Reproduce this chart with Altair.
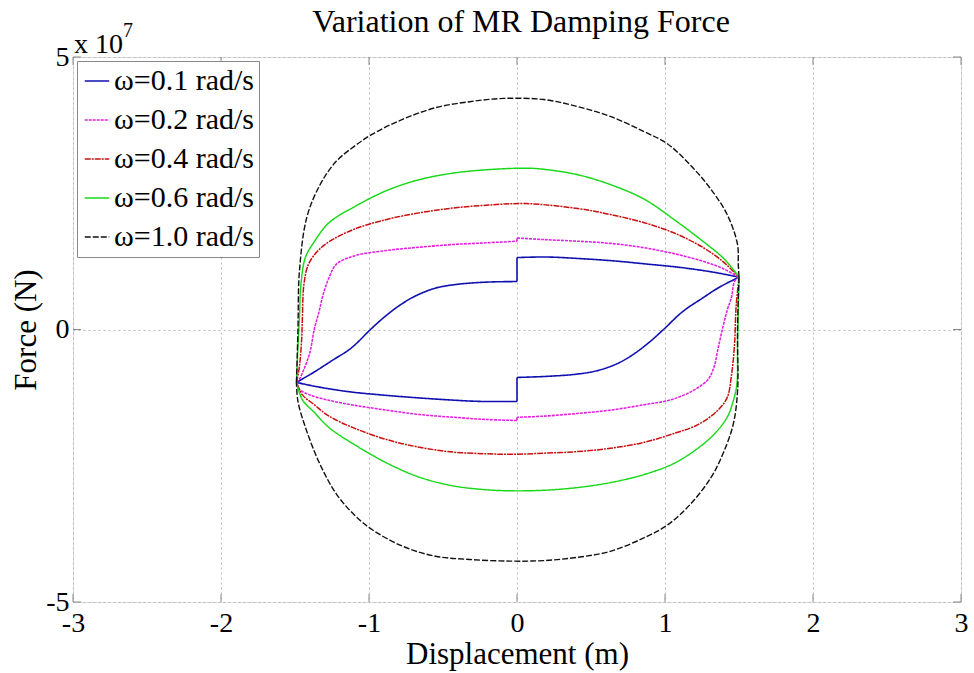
import altair as alt
import pandas as pd

# Series names (legend labels)
names = ["ω=0.1 rad/s", "ω=0.2 rad/s", "ω=0.4 rad/s", "ω=0.6 rad/s", "ω=1.0 rad/s"]
colors = ["#1010b0", "#e020e0", "#c81010", "#18d818", "#111111"]
dashes = [[1, 0], [3, 1], [6, 1, 2, 1], [1, 0], [6, 2]]
widths = [1.6, 1.4, 1.4, 1.5, 0.8]

# Displacement (m) and force (in units of 1e7 N), read branch by branch.
# ω=0.1 rad/s
w01_ul_x = [-1.49, -1.37, -1.25, -1.12, -0.99, -0.90, -0.80, -0.69, -0.55, -0.40, -0.20, 0.0]
w01_ul_y = [-0.97, -0.78, -0.57, -0.34, 0.0, 0.22, 0.43, 0.61, 0.76, 0.83, 0.87, 0.88]
w01_ur_x = [0.0, 0.20, 0.43, 0.65, 0.88, 1.10, 1.33, 1.50]
w01_ur_y = [1.32, 1.33, 1.30, 1.26, 1.20, 1.14, 1.05, 0.96]
w01_lr_x = [1.50, 1.37, 1.25, 1.12, 0.99, 0.90, 0.80, 0.69, 0.55, 0.40, 0.20, 0.0]
w01_lr_y = [0.96, 0.78, 0.57, 0.33, 0.0, -0.22, -0.43, -0.61, -0.75, -0.82, -0.86, -0.88]
w01_ll_x = [0.0, -0.24, -0.47, -0.69, -0.92, -1.14, -1.37, -1.49]
w01_ll_y = [-1.32, -1.32, -1.29, -1.25, -1.20, -1.14, -1.04, -0.97]

# ω=0.2 rad/s
w02_ul_x = [-1.49, -1.47, -1.44, -1.40, -1.37, -1.34, -1.31, -1.27, -1.22, -1.10, -0.88, -0.66, -0.43, -0.21, 0.0]
w02_ul_y = [-0.97, -0.91, -0.73, -0.43, 0.0, 0.30, 0.64, 0.95, 1.20, 1.35, 1.45, 1.51, 1.56, 1.59, 1.62]
w02_ur_x = [0.0, 0.18, 0.41, 0.63, 0.86, 1.08, 1.26, 1.39, 1.50]
w02_ur_y = [1.68, 1.65, 1.62, 1.58, 1.50, 1.38, 1.25, 1.12, 0.96]
w02_lr_x = [1.50, 1.47, 1.45, 1.42, 1.39, 1.36, 1.33, 1.29, 1.19, 1.04, 0.86, 0.63, 0.41, 0.18, 0.0]
w02_lr_y = [0.96, 0.88, 0.60, 0.35, 0.03, -0.33, -0.70, -0.92, -1.12, -1.29, -1.38, -1.48, -1.54, -1.59, -1.61]
w02_ll_x = [0.0, -0.21, -0.43, -0.66, -0.88, -1.10, -1.27, -1.40, -1.47, -1.49]
w02_ll_y = [-1.67, -1.65, -1.61, -1.56, -1.48, -1.39, -1.30, -1.20, -1.10, -0.97]

# ω=0.4 rad/s
w04_u_x = [-1.49, -1.47, -1.455, -1.45, -1.44, -1.41, -1.35, -1.27, -1.10, -0.88, -0.66, -0.43,
           -0.21, 0.06, 0.41, 0.63, 0.86, 1.08, 1.26, 1.39, 1.46, 1.50]
w04_u_y = [-0.97, -0.68, -0.18, 0.22, 0.82, 1.19, 1.43, 1.61, 1.84, 2.02, 2.14, 2.23,
           2.28, 2.31, 2.22, 2.11, 1.96, 1.75, 1.50, 1.25, 1.07, 0.96]
w04_l_x = [1.50, 1.48, 1.47, 1.45, 1.42, 1.35, 1.22, 1.08, 0.86, 0.63, 0.41, 0.18, -0.04,
           -0.21, -0.43, -0.66, -0.88, -1.10, -1.27, -1.37, -1.45, -1.49]
w04_l_y = [0.96, 0.40, -0.27, -0.82, -1.25, -1.50, -1.75, -1.89, -2.07, -2.18, -2.24, -2.27, -2.29,
           -2.28, -2.25, -2.16, -2.02, -1.81, -1.59, -1.38, -1.20, -0.97]

# ω=0.6 rad/s
w06_u_x = [-1.49, -1.48, -1.47, -1.46, -1.43, -1.37, -1.27, -1.10, -0.88, -0.66, -0.43, -0.21,
           0.06, 0.18, 0.41, 0.63, 0.86, 1.08, 1.26, 1.39, 1.47, 1.50]
w06_u_y = [-0.97, -0.30, 0.22, 0.82, 1.32, 1.61, 1.96, 2.25, 2.55, 2.75, 2.87, 2.93,
           2.96, 2.94, 2.84, 2.66, 2.39, 1.98, 1.61, 1.32, 1.07, 0.96]
w06_l_x = [1.50, 1.49, 1.486, 1.46, 1.42, 1.31, 1.08, 0.86, 0.63, 0.41, 0.18, -0.04,
           -0.21, -0.43, -0.66, -0.88, -1.10, -1.27, -1.37, -1.45, -1.49]
w06_l_y = [0.96, -0.30, -1.00, -1.32, -1.61, -1.98, -2.43, -2.66, -2.81, -2.90, -2.95, -2.96,
           -2.94, -2.87, -2.71, -2.45, -2.11, -1.80, -1.52, -1.29, -0.97]

# ω=1.0 rad/s
w10_u_x = [-1.49, -1.48, -1.47, -1.42, -1.33, -1.22, -1.10, -0.98, -0.77, -0.55, -0.32, -0.09,
           0.18, 0.41, 0.63, 0.86, 1.02, 1.17, 1.30, 1.42, 1.49, 1.495, 1.50]
w10_u_y = [-0.97, 0.0, 1.07, 2.06, 2.66, 3.09, 3.36, 3.58, 3.86, 4.07, 4.18, 4.24,
           4.22, 4.09, 3.91, 3.63, 3.40, 3.02, 2.61, 2.11, 1.56, 1.20, 0.96]
w10_l_x = [1.50, 1.49, 1.49, 1.46, 1.39, 1.31, 1.17, 1.02, 0.86, 0.63, 0.41, 0.18, -0.04,
           -0.32, -0.55, -0.77, -0.98, -1.10, -1.22, -1.33, -1.42, -1.48, -1.49]
w10_l_y = [0.96, 0.0, -1.14, -1.75, -2.29, -2.72, -3.21, -3.58, -3.82, -4.07, -4.18, -4.24, -4.25,
           -4.22, -4.16, -3.98, -3.67, -3.40, -3.02, -2.48, -1.87, -1.32, -0.97]

x_ticks = [-3, -2, -1, 0, 1, 2, 3]
y_ticks = [-5, 0, 5]

branches = [
    (names[0], w01_ul_x, w01_ul_y),
    (names[0], [w01_ul_x[-1], w01_ur_x[0]], [w01_ul_y[-1], w01_ur_y[0]]),
    (names[0], w01_ur_x, w01_ur_y),
    (names[0], w01_lr_x, w01_lr_y),
    (names[0], [w01_lr_x[-1], w01_ll_x[0]], [w01_lr_y[-1], w01_ll_y[0]]),
    (names[0], w01_ll_x, w01_ll_y),
    (names[1], w02_ul_x, w02_ul_y),
    (names[1], [w02_ul_x[-1], w02_ur_x[0]], [w02_ul_y[-1], w02_ur_y[0]]),
    (names[1], w02_ur_x, w02_ur_y),
    (names[1], w02_lr_x, w02_lr_y),
    (names[1], [w02_lr_x[-1], w02_ll_x[0]], [w02_lr_y[-1], w02_ll_y[0]]),
    (names[1], w02_ll_x, w02_ll_y),
    (names[2], w04_u_x, w04_u_y),
    (names[2], w04_l_x, w04_l_y),
    (names[3], w06_u_x, w06_u_y),
    (names[3], w06_l_x, w06_l_y),
    (names[4], w10_u_x, w10_u_y),
    (names[4], w10_l_x, w10_l_y),
]
rows = []
for seg, (name, xs, ys) in enumerate(branches):
    for i, (xv, yv) in enumerate(zip(xs, ys)):
        rows.append({"series": name, "seg": seg, "order": i, "x": xv, "y": yv})
df = pd.DataFrame(rows)

SERIF = "Liberation Serif"
W, H = 888, 545

xscale = alt.Scale(domain=[-3, 3], nice=False, zero=False)
yscale = alt.Scale(domain=[-5, 5], nice=False, zero=False)

legend = alt.Legend(
    orient="none", legendX=4, legendY=4, title=None,
    strokeColor="#888", fillColor="white", padding=5, cornerRadius=0,
    labelFont=SERIF, labelFontSize=30, labelColor="black", labelLimit=0,
    symbolType="stroke", symbolSize=600, symbolStrokeWidth=1.3,
    rowPadding=9, labelOffset=2,
)

lines = alt.Chart(df).mark_line(interpolate="catmull-rom").encode(
    x=alt.X("x:Q", scale=xscale,
            axis=alt.Axis(values=x_ticks, grid=True, gridDash=[2, 3], gridColor="#b8b8b8",
                          ticks=False, domain=False, labelFont=SERIF, labelFontSize=28,
                          labelColor="black", labelPadding=7, labelFlush=False,
                          labelOverlap=False, labelExpr="'' + datum.value",
                          title="Displacement (m)", titleFont=SERIF, titleFontSize=31,
                          titleFontWeight="normal", titleColor="black",
                          titleBaseline="alphabetic", titleY=61, titleX=W / 2)),
    y=alt.Y("y:Q", scale=yscale,
            axis=alt.Axis(values=y_ticks, grid=True, gridDash=[2, 3], gridColor="#b8b8b8",
                          ticks=False, domain=False, labelFont=SERIF, labelFontSize=28,
                          labelColor="black", labelPadding=4, labelFlush=False,
                          labelOverlap=False, labelExpr="'' + datum.value",
                          title="Force (N)", titleFont=SERIF, titleFontSize=31,
                          titleFontWeight="normal", titleColor="black",
                          titleAngle=270, titleBaseline="alphabetic",
                          titleX=-38, titleY=H / 2, titleAlign="center")),
    color=alt.Color("series:N", scale=alt.Scale(domain=names, range=colors),
                    sort=names, legend=legend),
    strokeDash=alt.StrokeDash("series:N", scale=alt.Scale(domain=names, range=dashes),
                              sort=names, legend=legend),
    strokeWidth=alt.StrokeWidth("series:N", scale=alt.Scale(domain=names, range=widths),
                                legend=None),
    order="order:Q",
    detail="seg:N",
)

# inward tick marks on the box
tick_df = pd.DataFrame({"t": x_ticks})
xt_bottom = alt.Chart(tick_df).mark_rule(color="#888", strokeWidth=1).encode(
    x=alt.X("t:Q", scale=xscale), y=alt.value(H), y2=alt.value(H - 8))
xt_top = alt.Chart(tick_df).mark_rule(color="#888", strokeWidth=1).encode(
    x=alt.X("t:Q", scale=xscale), y=alt.value(0), y2=alt.value(8))
ytick_df = pd.DataFrame({"t": y_ticks})
yt_left = alt.Chart(ytick_df).mark_rule(color="#888", strokeWidth=1).encode(
    y=alt.Y("t:Q", scale=yscale), x=alt.value(0), x2=alt.value(8))
yt_right = alt.Chart(ytick_df).mark_rule(color="#888", strokeWidth=1).encode(
    y=alt.Y("t:Q", scale=yscale), x=alt.value(W), x2=alt.value(W - 8))

one = pd.DataFrame({"a": [0]})
title_txt = alt.Chart(one).mark_text(font=SERIF, fontSize=32, align="center",
                                     baseline="alphabetic", color="black").encode(
    x=alt.value(W / 2 + 4), y=alt.value(-25), text=alt.value("Variation of MR Damping Force"))
exp_txt = alt.Chart(one).mark_text(font=SERIF, fontSize=28, align="left",
                                   baseline="alphabetic", color="black").encode(
    x=alt.value(1), y=alt.value(-4), text=alt.value("x 10"))
exp7_txt = alt.Chart(one).mark_text(font=SERIF, fontSize=20, align="left",
                                    baseline="alphabetic", color="black").encode(
    x=alt.value(50), y=alt.value(-20), text=alt.value("7"))

chart = alt.layer(lines, xt_bottom, xt_top, yt_left, yt_right, title_txt, exp_txt, exp7_txt).properties(
    width=W, height=H,
    autosize=alt.AutoSizeParams(type="none"),
    padding={"left": 73, "top": 57, "right": 13, "bottom": 71},
).configure_view(
    stroke="#555", strokeWidth=1
).configure(background="white")

chart.save("out.html", embed_options={"renderer": "svg", "actions": False})
